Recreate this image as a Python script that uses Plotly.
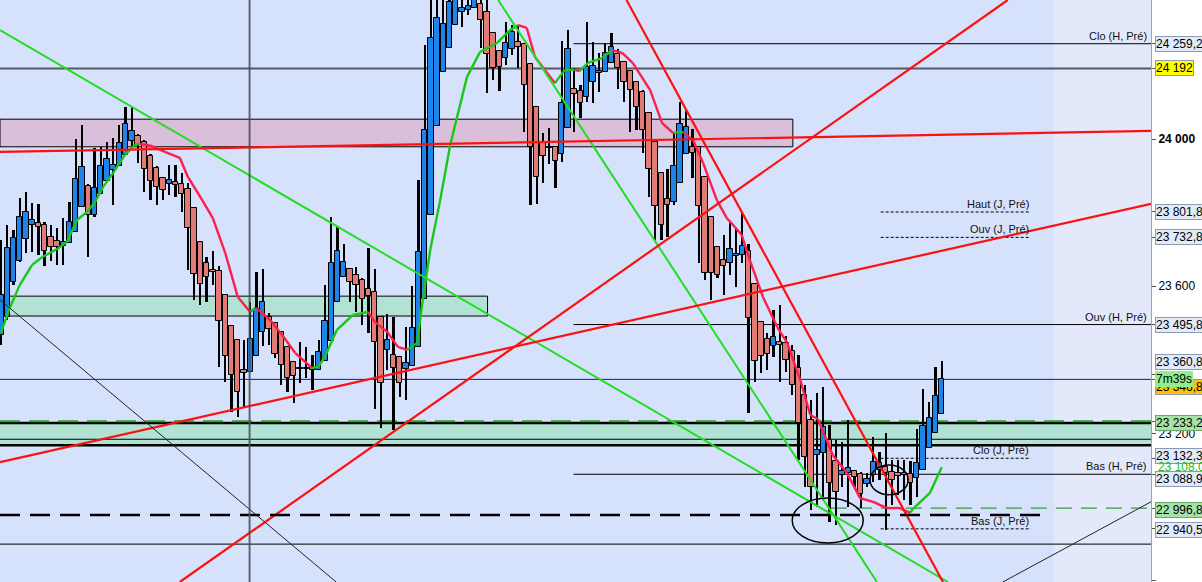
import plotly.graph_objects as go

# ---------------- candle data (index = bar number) ----------------
opens = [23468, 23516, 23612, 23669, 23728, 23766, 23772, 23766, 23734, 23723,
         23710, 23718, 23747, 23815, 23872, 23794, 23851, 23886, 23916, 23927,
         23957, 23995, 24008, 23992, 23954, 23921, 23894, 23878, 23883, 23878,
         23864, 23813, 23720, 23663, 23644, 23642, 23576, 23492, 23454, 23372,
         23367, 23410, 23476, 23516, 23500, 23476, 23435, 23394, 23378, 23378,
         23381, 23372, 23397, 23451, 23557, 23625, 23647, 23631, 23617, 23593,
         23584, 23516, 23427, 23413, 23408, 23375, 23383, 23435, 23565, 23794,
         24036, 24182, 24248, 24310, 24345, 24351, 24356, 24367, 24345, 24288,
         24239, 24220, 24245, 24264, 24258, 24204, 24087, 23992, 23976, 23978,
         23959, 24030, 24136, 24131, 24114, 24155, 24180, 24182, 24207, 24231,
         24209, 24185, 24155, 24128, 24071, 23992, 23908, 23837, 23829, 23881,
         23959, 23978, 23978, 23897, 23788, 23707, 23671, 23663, 23682, 23685,
         23696, 23606, 23503, 23457, 23438, 23448, 23446, 23424, 23378, 23304,
         23236, 23141, 23147, 23182, 23125, 23087, 23092, 23098, 23090, 23063,
         23087, 23101, 23109, 23095, 23092, 23092, 23090, 23079, 23101, 23160,
         23201, 23253]
highs = [23726, 23766, 23753, 23840, 23856, 23826, 23824, 23775, 23766, 23758,
         23785, 23829, 24000, 24038, 23878, 23976, 23978, 23992, 24003, 24038,
         24087, 24087, 24014, 23997, 23959, 23927, 23897, 23930, 23930, 23908,
         23881, 23813, 23720, 23680, 23696, 23655, 23576, 23492, 23454, 23454,
         23557, 23639, 23647, 23527, 23500, 23476, 23435, 23394, 23448, 23435,
         23413, 23454, 23603, 23788, 23761, 23715, 23647, 23652, 23622, 23704,
         23647, 23516, 23525, 23516, 23408, 23489, 23601, 23889, 24256, 24392,
         24405, 24392, 24405, 24405, 24392, 24392, 24405, 24392, 24386, 24288,
         24239, 24318, 24310, 24310, 24258, 24204, 24087, 24016, 24030, 23978,
         24267, 24296, 24193, 24147, 24318, 24264, 24234, 24261, 24288, 24245,
         24209, 24185, 24155, 24133, 24071, 23992, 23908, 23919, 24016, 24101,
         24076, 24027, 23978, 23897, 23788, 23707, 23739, 23772, 23758, 23799,
         23715, 23606, 23503, 23473, 23536, 23549, 23465, 23440, 23413, 23332,
         23291, 23310, 23326, 23223, 23182, 23177, 23236, 23101, 23095, 23092,
         23190, 23149, 23201, 23128, 23128, 23128, 23125, 23212, 23321, 23285,
         23381, 23397]
lows = [23440, 23508, 23603, 23666, 23690, 23693, 23685, 23655, 23669, 23658,
        23658, 23718, 23747, 23815, 23680, 23788, 23851, 23886, 23821, 23927,
        23957, 23978, 23935, 23856, 23834, 23821, 23834, 23848, 23843, 23802,
        23644, 23563, 23549, 23557, 23603, 23381, 23340, 23258, 23245, 23272,
        23367, 23410, 23438, 23440, 23405, 23332, 23313, 23283, 23337, 23351,
        23318, 23372, 23397, 23451, 23557, 23625, 23557, 23530, 23495, 23473,
        23266, 23215, 23372, 23209, 23299, 23291, 23383, 23435, 23565, 23794,
        24036, 24182, 24248, 24310, 24305, 24337, 24356, 24248, 24125, 24161,
        24131, 24201, 24228, 24193, 24019, 23821, 23824, 23881, 23932, 23867,
        23938, 24030, 24019, 24057, 24101, 24098, 24128, 24182, 24207, 24136,
        24101, 24019, 24025, 23962, 23843, 23726, 23726, 23734, 23821, 23881,
        23959, 23894, 23663, 23617, 23563, 23622, 23576, 23631, 23598, 23663,
        23255, 23340, 23364, 23372, 23408, 23340, 23367, 23304, 23128, 23054,
        22992, 23000, 23027, 22959, 22951, 23054, 23000, 23054, 22997, 23054,
        23068, 23073, 22937, 23005, 23033, 23019, 23005, 23027, 23101, 23160,
        23201, 23253]
closes = [23576, 23704, 23731, 23788, 23802, 23780, 23761, 23696, 23707, 23707,
          23720, 23775, 23891, 23924, 23794, 23867, 23927, 23946, 23930, 23989,
          24041, 24022, 23984, 23919, 23886, 23870, 23862, 23889, 23875, 23851,
          23758, 23633, 23606, 23625, 23639, 23506, 23410, 23359, 23313, 23364,
          23457, 23538, 23557, 23484, 23416, 23386, 23351, 23356, 23375, 23375,
          23372, 23421, 23506, 23663, 23696, 23666, 23612, 23603, 23565, 23573,
          23448, 23337, 23454, 23378, 23337, 23391, 23487, 23693, 24025, 24275,
          24329, 24313, 24373, 24383, 24356, 24362, 24386, 24324, 24231, 24193,
          24196, 24261, 24291, 24250, 24147, 23978, 23897, 23954, 23978, 23940,
          24098, 24245, 24123, 24098, 24196, 24199, 24185, 24234, 24250, 24193,
          24155, 24133, 24087, 24025, 23919, 23818, 23766, 23821, 23927, 24041,
          24033, 23962, 23818, 23636, 23636, 23631, 23655, 23701, 23688, 23710,
          23514, 23397, 23410, 23416, 23462, 23440, 23400, 23332, 23228, 23136,
          23054, 23155, 23217, 23065, 23041, 23098, 23106, 23081, 23035, 23076,
          23122, 23120, 23092, 23073, 23084, 23087, 23065, 23120, 23220, 23242,
          23302, 23346.8]

# moving-average line (bar index, price)
ma_idx = [0, 1.4, 3.0, 5.0, 6.7, 9.0, 10.6, 12.2, 13.8, 15.1,
          16.4, 18.0, 19.9, 21.5, 22.3, 24.2, 26.3, 28.7, 30.0, 32.3,
          34.0, 36.0, 38.0, 40.0, 40.8, 41.3, 43.2, 45.1, 47.2, 49.9,
          50.9, 52.0, 53.9, 56.5, 58.9, 60.0, 62.0, 63.7, 65.2, 66.8,
          67.7, 68.9, 70.5, 72.1, 74.8, 76.9, 79.6, 81.7, 83.0, 84.4,
          85.7, 87.3, 88.9, 90.5, 92.1, 92.9, 94.2, 96.5, 98.1, 99.7,
          101.4, 104.2, 106.1, 107.9, 108.7, 109.5, 111.1, 112.7, 114.9, 116.5,
          117.8, 118.9, 120.2, 122.3, 124.6, 126.2, 128.3, 129.9, 131.1, 133.5,
          135.8, 137.9, 140.0, 142.2, 144.3, 145.9, 146.4, 149.1, 151.0]
ma_val = [23473, 23541, 23603, 23658, 23680, 23701, 23720, 23780, 23802, 23829,
          23870, 23908, 23957, 23984, 23987, 23981, 23965, 23949, 23897, 23834,
          23785, 23690, 23571, 23530, 23541, 23536, 23508, 23468, 23419, 23378,
          23381, 23408, 23481, 23522, 23530, 23503, 23476, 23435, 23427, 23446,
          23563, 23699, 23834, 23984, 24169, 24237, 24261, 24296, 24310, 24302,
          24223, 24188, 24152, 24188, 24188, 24185, 24207, 24220, 24242, 24234,
          24207, 24133, 24044, 24016, 24019, 24019, 23997, 23935, 23834, 23785,
          23761, 23739, 23671, 23571, 23489, 23446, 23345, 23250, 23239, 23141,
          23092, 23024, 23014, 22997, 22997, 22984, 22995, 23038, 23108]

# price levels
lvl_clo_h, lvl_yellow, lvl_haut_j, lvl_ouv_j = 24259.2, 24192.0, 23801.8, 23732.8
lvl_ouv_h, lvl_high_last, lvl_last = 23495.8, 23360.8, 23346.8
lvl_green_top, lvl_clo_j, lvl_ma_last, lvl_bas_h = 23233.2, 23132.3, 23108.0, 23088.9
lvl_green_low, lvl_bas_j = 22996.8, 22940.5
lvl_dash, lvl_bottom_line = 22978, 22899
pink_zone = (23979, 24054)
green_zone_a = (23519, 23573)
green_zone_b = (23168, 23184, 23228)

# drawn trend lines: (x0, y0, x1, y1)
trend_green = [(-0.16, 24296, 152.0, 22796), (79.8, 24378, 140.6, 22796)]
trend_red = [(100.4, 24378, 151.2, 22796), (28.7, 22796, 161.6, 24378),
             (-0.16, 23122, 184.6, 23824), (-0.16, 23965, 184.6, 24022)]
trend_black = [(-0.16, 23563, 53.8, 22796), (160.8, 22796, 184.6, 23014)]

X0, X1 = -0.16, 184.59
Y0, Y1 = 22796, 24378
FONT = "Liberation Sans, Arial, sans-serif"
BLUE, RED = "#1f84ea", "#e27b73"

n = len(opens)
idx = list(range(n))

fig = go.Figure()

# wicks (as thin bars so that bodies can be drawn over them)
fig.add_trace(go.Bar(x=idx, y=[h - l for h, l in zip(highs, lows)], base=lows, width=0.36,
                     marker=dict(color="black", line=dict(width=0)),
                     hoverinfo="skip", showlegend=False))
# bodies
bases = [min(o, c) for o, c in zip(opens, closes)]
heights = [max(abs(c - o), 2.5) for o, c in zip(opens, closes)]
cols = [BLUE if c >= o else RED for o, c in zip(opens, closes)]
fig.add_trace(go.Bar(x=idx, y=heights, base=bases, width=0.86,
                     marker=dict(color=cols, line=dict(color="black", width=1)),
                     hoverinfo="skip", showlegend=False))

# moving average coloured by direction
gx, gy, rx, ry = [], [], [], []
prev_up = True
for k in range(len(ma_idx) - 1):
    d = ma_val[k + 1] - ma_val[k]
    up = prev_up if d == 0 else d > 0
    prev_up = up
    if up:
        gx += [ma_idx[k], ma_idx[k + 1], None]; gy += [ma_val[k], ma_val[k + 1], None]
    else:
        rx += [ma_idx[k], ma_idx[k + 1], None]; ry += [ma_val[k], ma_val[k + 1], None]
fig.add_trace(go.Scatter(x=gx, y=gy, mode="lines", line=dict(color="#18c818", width=2.4),
                         hoverinfo="skip", showlegend=False))
fig.add_trace(go.Scatter(x=rx, y=ry, mode="lines", line=dict(color="#ff1d4d", width=2.4),
                         hoverinfo="skip", showlegend=False))

# trend lines
for (a, b, c, d) in trend_green:
    fig.add_trace(go.Scatter(x=[a, c], y=[b, d], mode="lines", line=dict(color="#22dd22", width=2),
                             hoverinfo="skip", showlegend=False))
for (a, b, c, d) in trend_red:
    fig.add_trace(go.Scatter(x=[a, c], y=[b, d], mode="lines", line=dict(color="#ff1010", width=2.2),
                             hoverinfo="skip", showlegend=False))
for (a, b, c, d) in trend_black:
    fig.add_trace(go.Scatter(x=[a, c], y=[b, d], mode="lines", line=dict(color="#222222", width=1),
                             hoverinfo="skip", showlegend=False))

shapes = []
def hline(y, x0=X0, x1=X1, color="black", width=1, dash="solid", layer="below"):
    shapes.append(dict(type="line", xref="x", yref="y", x0=x0, x1=x1, y0=y, y1=y,
                       line=dict(color=color, width=width, dash=dash), layer=layer))

# lighter "future" area
shapes.append(dict(type="rect", xref="x", yref="paper", x0=169.0, x1=X1, y0=0, y1=1,
                   fillcolor="#e3e9fb", line=dict(width=0), layer="below"))
# zones
shapes.append(dict(type="rect", xref="x", yref="y", x0=X0, x1=127.1, y0=pink_zone[0], y1=pink_zone[1],
                   fillcolor="#d9bfd9", line=dict(color="black", width=1), layer="below"))
shapes.append(dict(type="rect", xref="x", yref="y", x0=X0, x1=78.1, y0=green_zone_a[0], y1=green_zone_a[1],
                   fillcolor="#b2e2d4", line=dict(color="black", width=1), layer="below"))
shapes.append(dict(type="rect", xref="x", yref="y", x0=X0, x1=X1, y0=green_zone_b[0], y1=green_zone_b[2],
                   fillcolor="#b2e2d4", line=dict(width=0), layer="below"))
hline(green_zone_b[2], width=2.5)
hline(green_zone_b[1], width=1)
hline(green_zone_b[0], width=2.5)
hline(lvl_green_top, color="#2e9e2e", width=2, dash="20px,9px")
# level lines
hline(lvl_yellow, color="#555a60", width=2)
hline(lvl_clo_h, x0=91.9)
hline(lvl_ouv_h, x0=91.9)
hline(lvl_bas_h, x0=91.9)
hline(lvl_last, color="#1010d0", width=1)
hline(lvl_bottom_line)
for lv in (lvl_haut_j, lvl_ouv_j, lvl_clo_j, lvl_bas_j):
    hline(lv, x0=141.2, x1=165.3, width=1, dash="3px,2px")
hline(lvl_green_low, x0=133.2, color="#3a9a3a", width=1.2, dash="16px,9px")
hline(lvl_dash, x1=167.4, width=2.5, dash="20px,10px", layer="above")
# vertical separator
shapes.append(dict(type="line", xref="x", yref="paper", x0=39.9, x1=39.9, y0=0, y1=1,
                   line=dict(color="#4a5058", width=2), opacity=0.85, layer="above"))
# hand drawn ellipses
shapes.append(dict(type="circle", xref="x", yref="y", x0=127.0, x1=138.4, y0=22902, y1=23024,
                   line=dict(color="black", width=1.5), layer="above"))
shapes.append(dict(type="circle", xref="x", yref="y", x0=139.5, x1=145.6, y0=23033, y1=23114,
                   line=dict(color="black", width=1.5), layer="above"))

annotations = []
def label_in(text, y, x=None):
    if x is None:
        annotations.append(dict(xref="paper", x=1, xanchor="right", xshift=-2, yref="y", y=y,
                                yanchor="bottom", text=text, showarrow=False,
                                font=dict(family=FONT, size=11, color="#111")))
    else:
        annotations.append(dict(xref="x", x=x, xanchor="right", yref="y", y=y, yanchor="bottom",
                                text=text, showarrow=False, font=dict(family=FONT, size=11, color="#111")))
label_in("Clo (H, Pré)", lvl_clo_h)
label_in("Ouv (H, Pré)", lvl_ouv_h)
label_in("Bas (H, Pré)", lvl_bas_h)
label_in("Haut (J, Pré)", lvl_haut_j, 165.3)
label_in("Ouv (J, Pré)", lvl_ouv_j, 165.3)
label_in("Clo (J, Pré)", lvl_clo_j, 165.3)
label_in("Bas (J, Pré)", lvl_bas_j, 165.3)

def fmt(v):
    s = f"{v:,.1f}".replace(",", " ").replace(".", ",")
    return s

def axis_box(y, text, bg, border="#8c9bb2", fc="black", yshift=0, xshift=4):
    annotations.append(dict(xref="paper", x=1, xanchor="left", xshift=xshift, yref="y", y=y,
                            yanchor="middle", yshift=yshift, text=text, showarrow=False,
                            bgcolor=bg, bordercolor=border, borderwidth=1, borderpad=0,
                            font=dict(family=FONT, size=12, color=fc)))
LB = "#e4ebf8"
axis_box(lvl_clo_h, fmt(lvl_clo_h), LB)
axis_box(lvl_yellow, "24 192", "#ffff00")
axis_box(lvl_haut_j, fmt(lvl_haut_j), LB)
axis_box(lvl_ouv_j, fmt(lvl_ouv_j), LB)
axis_box(lvl_ouv_h, fmt(lvl_ouv_h), LB)
axis_box(lvl_high_last, fmt(lvl_high_last), LB, yshift=12)
axis_box(lvl_last, fmt(lvl_last), "#ffc000", yshift=-8)
axis_box(lvl_last, "7m39s", "#90ee90", border="#90ee90", xshift=4)
axis_box(lvl_green_top, fmt(lvl_green_top), "#a6e3a6", border="#6aa86a", yshift=-2)
axis_box(lvl_clo_j, fmt(lvl_clo_j), LB, yshift=2)
annotations.append(dict(xref="paper", x=1, xanchor="left", xshift=5, yref="y", y=lvl_ma_last,
                        yanchor="middle", text=fmt(lvl_ma_last), showarrow=False,
                        font=dict(family=FONT, size=12, color="#22bb22")))
axis_box(lvl_bas_h, fmt(lvl_bas_h), LB, yshift=-5)
axis_box(lvl_green_low, fmt(lvl_green_low), "#a6e3a6", border="#6aa86a", yshift=-2)
axis_box(lvl_bas_j, fmt(lvl_bas_j), LB, yshift=-1)

main_ticks = [22800, 23200, 23600, 24000]
main_text = ["22 800", "23 200", "23 600", "<b>24 000</b>"]
level_ticks = [lvl_clo_h, lvl_yellow, lvl_haut_j, lvl_ouv_j, lvl_ouv_h, lvl_high_last, lvl_last,
               lvl_green_top, lvl_clo_j, lvl_bas_h, lvl_green_low, lvl_bas_j]

fig.update_layout(
    width=1202, height=582,
    margin=dict(l=0, r=51, t=0, b=0),
    paper_bgcolor="white", plot_bgcolor="#d6e1fb",
    showlegend=False, barmode="overlay", bargap=0,
    shapes=shapes, annotations=annotations,
    font=dict(family=FONT, size=12, color="black"),
    xaxis=dict(range=[X0, X1], visible=False, showgrid=False, zeroline=False, fixedrange=True),
    yaxis=dict(range=[Y0, Y1], side="right", showgrid=False, zeroline=False, showline=True,
               linecolor="#9aa4b8", linewidth=1, ticks="outside", ticklen=4, tickcolor="#555",
               tickvals=main_ticks + level_ticks,
               ticktext=main_text + [""] * len(level_ticks),
               tickfont=dict(family=FONT, size=12, color="black"),
               automargin=False, fixedrange=True),
)

fig.write_html("out.html", config={"displayModeBar": False},
               post_script="document.body.style.margin='0';document.body.style.overflow='hidden';")
